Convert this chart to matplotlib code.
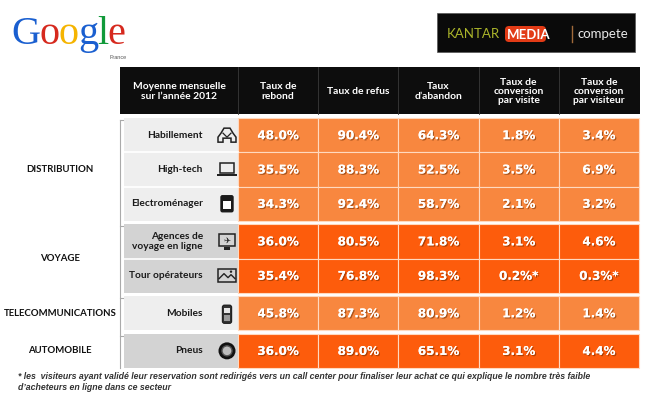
import matplotlib
matplotlib.use("Agg")
import matplotlib.pyplot as plt
import matplotlib.patches as mpatches
import matplotlib.patheffects as pe

# ---- data ----
headers = ["Moyenne mensuelle\nsur l\u2019ann\u00e9e 2012", "Taux de\nrebond", "Taux de refus",
           "Taux\nd\u2019abandon", "Taux de\nconversion\npar visite", "Taux de\nconversion\npar visiteur"]
groups = ["DISTRIBUTION", "VOYAGE", "TELECOMMUNICATIONS", "AUTOMOBILE"]
group_sizes = [3, 2, 1, 1]
rows = ["Habillement", "High-tech", "Electrom\u00e9nager", "Agences de\nvoyage en ligne",
        "Tour op\u00e9rateurs", "Mobiles", "Pneus"]
icons = ["hoodie", "laptop", "oven", "monitor", "picture", "phone", "tire"]
rebond = [48.0, 35.5, 34.3, 36.0, 35.4, 45.8, 36.0]
refus = [90.4, 88.3, 92.4, 80.5, 76.8, 87.3, 89.0]
abandon = [64.3, 52.5, 58.7, 71.8, 98.3, 80.9, 65.1]
conv_visite = [1.8, 3.5, 2.1, 3.1, 0.2, 1.2, 3.1]
conv_visiteur = [3.4, 6.9, 3.2, 4.6, 0.3, 1.4, 4.4]
starred = [False, False, False, False, True, False, False]
footnote = ("* les  visiteurs ayant valid\u00e9 leur reservation sont redirig\u00e9s vers un call center "
            "pour finaliser leur achat ce qui explique le nombre tr\u00e8s faible\n"
            "d\u2019acheteurs en ligne dans ce secteur")

columns = [rebond, refus, abandon, conv_visite, conv_visiteur]
light_orange = "#f8873f"
dark_orange = "#fd5c0c"
group_colors = [light_orange, dark_orange, light_orange, dark_orange]
label_bg = ["#eeeeee", "#d3d3d3", "#eeeeee", "#d3d3d3"]

# ---- layout (pixels) ----
W, H = 650, 400
col_x0, col_w = 238, 80.2
row_y0, row_h, gap = 118, 34.3, 3.3
head_top, head_bot = 67, 114
lab_x0 = 124

fig = plt.figure(figsize=(W / 100, H / 100), dpi=100)
ax = fig.add_axes([0, 0, 1, 1])
ax.set_xlim(0, W)
ax.set_ylim(H, 0)
ax.axis("off")

bold = dict(family="Lato", fontweight="bold")
shadow = [pe.withSimplePatchShadow(offset=(0.9, -0.9), shadow_rgbFace="#6b2a00", alpha=0.55),
          pe.Normal()]

# header
ax.add_patch(mpatches.Rectangle((120, head_top), 640 - 120, head_bot - head_top,
                                facecolor="#0d0d0d", edgecolor="none"))
head_centers = [(120 + col_x0) / 2] + [col_x0 + col_w * (i + 0.5) for i in range(5)]
for i, (hx, txt) in enumerate(zip(head_centers, headers)):
    ax.text(hx, (head_top + head_bot) / 2 + 1, txt, color="white", fontsize=7.4, ha="center",
            va="center", linespacing=1.05, **bold)
for i in range(5):
    ax.plot([col_x0 + col_w * i] * 2, [head_top, head_bot], color="#3a3a3a", lw=0.6)


def draw_icon(kind, cx, cy):
    k = dict(facecolor="none", edgecolor="#222222", lw=1.1)
    if kind == "hoodie":
        pts = [(-3, -7), (3, -7), (6, -2), (9, 2), (9, 7), (4, 7), (4, 3), (-4, 3), (-4, 7),
               (-9, 7), (-9, 2), (-6, -2)]
        ax.add_patch(mpatches.Polygon([(cx + a, cy + b) for a, b in pts], closed=True, **k))
        ax.plot([cx - 4, cx, cx + 4], [cy - 2, cy + 2, cy - 2], color="#222222", lw=0.9)
    elif kind == "laptop":
        ax.add_patch(mpatches.Rectangle((cx - 7, cy - 6), 14, 10, **k))
        ax.add_patch(mpatches.Rectangle((cx - 10, cy + 5), 20, 2, facecolor="#222222"))
    elif kind == "oven":
        ax.add_patch(mpatches.FancyBboxPatch((cx - 6, cy - 8), 12, 16,
                                             boxstyle="round,pad=0,rounding_size=1.5",
                                             facecolor="#1a1a1a", edgecolor="#1a1a1a"))
        ax.add_patch(mpatches.Rectangle((cx - 4, cy - 3), 8, 8, facecolor="white"))
    elif kind == "monitor":
        ax.add_patch(mpatches.Rectangle((cx - 8, cy - 7), 16, 12, **k))
        ax.add_patch(mpatches.Rectangle((cx - 3, cy + 6), 6, 2.5, facecolor="#222222"))
        ax.text(cx, cy - 1, "\u2708", fontsize=6, ha="center", va="center", color="#222222",
                family="DejaVu Sans")
    elif kind == "picture":
        ax.add_patch(mpatches.Rectangle((cx - 9, cy - 7), 18, 13, **k))
        ax.plot([cx - 8, cx - 3, cx + 1, cx + 4, cx + 8], [cy + 3, cy - 2, cy + 2, cy - 1, cy + 3],
                color="#222222", lw=1)
        ax.add_patch(mpatches.Circle((cx + 4, cy - 4), 1.2, facecolor="#222222"))
    elif kind == "phone":
        ax.add_patch(mpatches.FancyBboxPatch((cx - 4.5, cy - 8), 9, 18,
                                             boxstyle="round,pad=0,rounding_size=2",
                                             facecolor="#333333", edgecolor="#222222"))
        ax.add_patch(mpatches.Rectangle((cx - 3, cy - 5), 6, 5, facecolor="#e6e6e6"))
        ax.add_patch(mpatches.Rectangle((cx - 3, cy + 1.5), 6, 6, facecolor="#9a9a9a"))
    elif kind == "tire":
        ax.add_patch(mpatches.Circle((cx, cy), 8.5, facecolor="#111111"))
        ax.add_patch(mpatches.Circle((cx, cy), 5, facecolor="#bdbdbd", edgecolor="#555555"))


# body rows
y = row_y0
r = 0
group_spans = []
for g, n in enumerate(group_sizes):
    g_top = y
    for _ in range(n):
        ax.add_patch(mpatches.Rectangle((lab_x0, y), col_x0 - lab_x0, row_h,
                                        facecolor=label_bg[g], edgecolor="none"))
        if r in (1, 2) or (r == 4):
            ax.plot([lab_x0, col_x0], [y, y], color="white", lw=1.2)
        ax.text(203, y + row_h / 2, rows[r], ha="right", va="center", fontsize=7.3,
                color="#1a1a1a", linespacing=1.05, **bold)
        draw_icon(icons[r], 227, y + row_h / 2)
        for c, vals in enumerate(columns):
            x = col_x0 + col_w * c
            ax.add_patch(mpatches.Rectangle((x, y), col_w, row_h, facecolor=group_colors[g],
                                            edgecolor="#ffd9bf", lw=0.8))
            txt = f"{vals[r]:.1f}%" + ("*" if starred[r] and c >= 3 else "")
            ax.text(x + col_w / 2, y + row_h / 2 + 0.5, txt, ha="center", va="center",
                    fontsize=8.6, color="white", family="DejaVu Sans", fontweight="bold",
                    path_effects=shadow)
        y += row_h
        r += 1
    group_spans.append((g_top, y))
    ax.text(60, (g_top + y) / 2, groups[g], ha="center", va="center", fontsize=6.9,
            color="#111111", **bold)
    y += gap

# bracket on the left of the row labels
top, bot = group_spans[0][0], group_spans[-1][1]
ax.plot([120, 120], [top + 2, bot], color="#aaaaaa", lw=0.8)
for g_top, g_bot in group_spans:
    ax.plot([120, 123], [g_top + 2, g_top + 2], color="#aaaaaa", lw=0.8)

# google logo
letters = ["G", "o", "o", "g", "l", "e"]
letter_colors = ["#1a5fd0", "#d6291e", "#f5b400", "#1a5fd0", "#119a3a", "#d6291e"]
renderer = fig.canvas.get_renderer()
gx = 11
for ch, col in zip(letters, letter_colors):
    t = ax.text(gx, 44, ch, fontsize=29, color=col, family="Liberation Serif", va="baseline")
    gx += t.get_window_extent(renderer).width - 0.8
ax.text(109, 59, "France", fontsize=4, color="#555555", family="Liberation Sans", va="baseline")

# kantar / compete logo
ax.add_patch(mpatches.Rectangle((437, 13), 198, 39, facecolor="#0a0a0a", edgecolor="#555555",
                                lw=0.5))
ax.add_patch(mpatches.FancyBboxPatch((505, 26), 41, 16, boxstyle="round,pad=0,rounding_size=4",
                                     facecolor="#e23b16", edgecolor="none"))
ax.text(447, 34, "KANTAR", fontsize=9.5, color="#aab42a", family="Lato", va="center")
ax.text(507, 35, "MEDIA", fontsize=9.5, color="white", family="Lato", fontweight="bold",
        va="center")
ax.plot([572, 572], [26, 42], color="#a06a3a", lw=1)
ax.text(578, 34, "compete", fontsize=9.5, color="#e8e8e8", family="Lato", va="center")

# footnote
ax.text(18, 382, footnote, fontsize=6.3, color="#333333", family="Liberation Sans",
        style="italic", fontweight="bold", va="center", linespacing=1.3)

fig.savefig("out.png", dpi=100, facecolor="white")
